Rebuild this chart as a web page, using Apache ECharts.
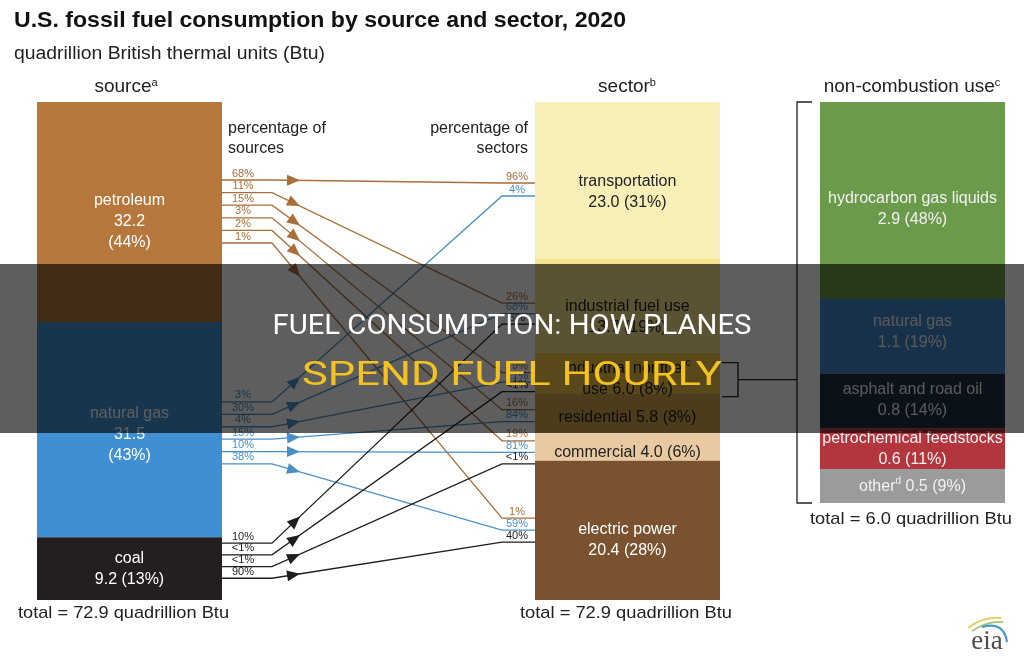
<!DOCTYPE html>
<html><head><meta charset="utf-8">
<script src="https://cdn.jsdelivr.net/npm/echarts@6/dist/echarts.min.js"></script>
<style>html,body{margin:0;padding:0;background:#fff}#c{width:1024px;height:657px}</style>
</head><body><div id="c"></div>
<script>
// ---------------- DATA ----------------
const sources = ['petroleum', 'natural gas', 'coal'];
const sourceValues = [32.2, 31.5, 9.2];
const sourcePct = ['44%', '43%', '13%'];
const sectors = ['transportation', 'industrial fuel use', 'industrial nonfuel use', 'residential', 'commercial', 'electric power'];
const sectorValues = [23.0, 13.7, 6.0, 5.8, 4.0, 20.4];
const sectorPct = ['31%', '19%', '8%', '8%', '6%', '28%'];
const nonCombustion = ['hydrocarbon gas liquids', 'natural gas', 'asphalt and road oil', 'petrochemical feedstocks', 'other'];
const nonCombValues = [2.9, 1.1, 0.8, 0.6, 0.5];
const nonCombPct = ['48%', '19%', '14%', '11%', '9%'];
const totalAll = 72.9;
const totalNonComb = 6.0;
// flows (source index -> sector index)
const flowSource = [0, 0, 0, 0, 0, 0, 1, 1, 1, 1, 1, 1, 2, 2, 2, 2];
const flowSector = [0, 1, 2, 3, 4, 5, 0, 1, 2, 3, 4, 5, 1, 2, 4, 5];
const flowPctOfSource = ['68%', '11%', '15%', '3%', '2%', '1%', '3%', '30%', '4%', '15%', '10%', '38%', '10%', '<1%', '<1%', '90%'];
const flowPctOfSector = ['96%', '26%', '79%', '16%', '19%', '1%', '4%', '68%', '21%', '84%', '81%', '59%', '6%', '<1%', '<1%', '40%'];

// ---------------- STYLE / LAYOUT ----------------
const FONT = '"Liberation Sans", Arial, sans-serif';
const sourceColors = ['#b5773b', '#3f8fd2', '#231f20'];
const flowColors = ['#a86f3a', '#4a90c8', '#1e1e1e'];
const sectorColors = ['#f8efb8', '#f5e28c', '#f0c348', '#cfa24c', '#e9c9a1', '#7b5230'];
const sectorText = ['#222', '#222', '#222', '#222', '#222', '#fff'];
const nonCombColors = ['#6b9a4a', '#3d86c6', '#1b2f46', '#b3363f', '#9b9b9b'];
const srcLabelDy = [10, 5, 1], secLabelDy = [12, 11, 6, 4, 6, 10], ncLabelDy = [9, -4, -1, 0, 1];
const srcLineOffset = [78, 80, 6], srcLineGap = [12.6, 12.4, 11.7];
const secLineOffset = [81, 44, 20, 16, 7.5, 57.5], secLineGap = [13, 10.5, 9.5, 12, 11.5, 12];
const X_SRC = 222, X_BEND_L = 272, X_BEND_R = 502, X_SEC = 535, X_ARROW = 300;

const sum = a => a.reduce((s, v) => s + v, 0);
const cum = a => a.map((v, i) => sum(a.slice(0, i)));

function labelFor(kind, name, v, p) {
  if (kind === 'src3') return name + '\n' + v.toFixed(1) + '\n(' + p + ')';
  if (kind === 'two') return name + '\n' + v.toFixed(1) + ' (' + p + ')';
  if (kind === 'one') return name + ' ' + v.toFixed(1) + ' (' + p + ')';
  if (kind === 'nonfuel') return 'industrial nonfuel{sup|c}\nuse ' + v.toFixed(1) + ' (' + p + ')';
  if (kind === 'other') return name + '{sup|d} ' + v.toFixed(1) + ' (' + p + ')';
  return name;
}
const srcKinds = ['src3', 'src3', 'two'];
const secKinds = ['two', 'two', 'nonfuel', 'one', 'one', 'two'];
const ncKinds = ['two', 'two', 'two', 'two', 'other'];

function bars(names, values, pcts, colors, textColors, kinds, dys, g) {
  return names.map((n, i) => ({
    type: 'bar', name: n, xAxisIndex: g, yAxisIndex: g, stack: 's' + g,
    barWidth: '100%', data: [values[i]], itemStyle: { color: colors[i] },
    label: {
      show: true, position: 'inside', offset: [0, dys[i]], fontFamily: FONT, fontSize: 16, lineHeight: 21,
      color: textColors[i], formatter: labelFor(kinds[i], n, values[i], pcts[i]),
      rich: { sup: { fontSize: 10, fontFamily: FONT, verticalAlign: 'top', color: textColors[i], lineHeight: 14 } }
    }
  }));
}

const chart = echarts.init(document.getElementById('c'));
chart.setOption({
  animation: false,
  backgroundColor: '#ffffff',
  grid: [
    { left: 37, top: 102, width: 185, height: 498 },
    { left: 535, top: 102, width: 185, height: 498 },
    { left: 820, top: 102, width: 185, height: 401 }
  ],
  xAxis: [0, 1, 2].map(i => ({ type: 'category', gridIndex: i, data: [''], show: false })),
  yAxis: [
    { type: 'value', gridIndex: 0, min: 0, max: sum(sourceValues), inverse: true, show: false },
    { type: 'value', gridIndex: 1, min: 0, max: sum(sectorValues), inverse: true, show: false },
    { type: 'value', gridIndex: 2, min: 0, max: sum(nonCombValues), inverse: true, show: false }
  ],
  series: [
    ...bars(sources, sourceValues, sourcePct, sourceColors, ['#fff', '#fff', '#fff'], srcKinds, srcLabelDy, 0),
    ...bars(sectors, sectorValues, sectorPct, sectorColors, sectorText, secKinds, secLabelDy, 1),
    ...bars(nonCombustion, nonCombValues, nonCombPct, nonCombColors, ['#f2f2f2', '#f2f2f2', '#f2f2f2', '#f2f2f2', '#f2f2f2'], ncKinds, ncLabelDy, 2)
  ]
});

// --------- flows & annotations (positions derived from axes) ---------
const ctx = document.createElement('canvas').getContext('2d');
function fit(text, font, width) { ctx.font = font; return width / ctx.measureText(text).width; }
function txt(text, x, y, size, opts) {
  opts = opts || {};
  const font = (opts.weight || 'normal') + ' ' + size + 'px ' + (opts.family || FONT);
  const el = {
    type: 'text', x: x, y: y, z: opts.z || 60,
    style: { text: text, font: font, fill: opts.fill || '#222', textAlign: opts.align || 'left', textVerticalAlign: 'middle' }
  };
  if (opts.width) el.scaleX = fit(text, font, opts.width);
  if (opts.rich) el.style.rich = opts.rich;
  return el;
}
const ySrc = v => chart.convertToPixel({ yAxisIndex: 0 }, v);
const ySec = v => chart.convertToPixel({ yAxisIndex: 1 }, v);
const yNc = v => chart.convertToPixel({ yAxisIndex: 2 }, v);
const srcTop = cum(sourceValues), secTop = cum(sectorValues);

const G = [];
flowSource.forEach((s, k) => {
  const t = flowSector[k];
  const rs = flowSource.slice(0, k).filter(x => x === s).length;
  const rt = flowSector.filter((x, m) => x === t && flowSource[m] < s).length;
  const y1 = ySrc(srcTop[s]) + srcLineOffset[s] + rs * srcLineGap[s];
  const y2 = ySec(secTop[t]) + secLineOffset[t] + rt * secLineGap[t];
  const col = flowColors[s];
  G.push({ type: 'polyline', z: 50, shape: { points: [[X_SRC, y1], [X_BEND_L, y1], [X_BEND_R, y2], [X_SEC, y2]] },
    style: { stroke: col, lineWidth: 1.3, fill: null } });
  const dx = X_BEND_R - X_BEND_L, dy = y2 - y1, L = Math.hypot(dx, dy);
  const ux = dx / L, uy = dy / L;
  const d = (X_ARROW - X_BEND_L) / ux;
  const tx = X_BEND_L + ux * d, ty = y1 + uy * d;
  const bx = tx - ux * 13, by = ty - uy * 13;
  G.push({ type: 'polygon', z: 51, shape: { points: [[tx, ty], [bx - uy * 5.5, by + ux * 5.5], [bx + uy * 5.5, by - ux * 5.5]] },
    style: { fill: col } });
  G.push(txt(flowPctOfSource[k], 243, y1 - 6.5, 11, { fill: col, align: 'center', z: 52 }));
  G.push(txt(flowPctOfSector[k], 517, y2 - 6.5, 11, { fill: col, align: 'center', z: 52 }));
});

// titles
G.push(txt('U.S. fossil fuel consumption by source and sector, 2020', 14, 21, 22, { weight: 'bold', fill: '#111', width: 612 }));
G.push(txt('quadrillion British thermal units (Btu)', 14, 54, 18, { fill: '#222', width: 311 }));
const supRich = { m: { fontSize: 19, fontFamily: FONT, fill: '#222' }, s: { fontSize: 11, fontFamily: FONT, fill: '#222', verticalAlign: 'top' } };
G.push(txt('{m|source}{s|a}', 126, 87, 19, { align: 'center', rich: supRich }));
G.push(txt('{m|sector}{s|b}', 627, 87, 19, { align: 'center', rich: supRich }));
G.push(txt('{m|non-combustion use}{s|c}', 912, 87, 19, { align: 'center', rich: supRich }));
G.push(txt('percentage of', 228, 129, 16));
G.push(txt('sources', 228, 149, 16));
G.push(txt('percentage of', 528, 129, 16, { align: 'right' }));
G.push(txt('sectors', 528, 149, 16, { align: 'right' }));
G.push(txt('total = ' + totalAll.toFixed(1) + ' quadrillion Btu', 18, 613, 17, { width: 211 }));
G.push(txt('total = ' + totalAll.toFixed(1) + ' quadrillion Btu', 520, 613, 17, { width: 212 }));
G.push(txt('total = ' + totalNonComb.toFixed(1) + ' quadrillion Btu', 810, 519, 17, { width: 202 }));

// brackets
const nfTop = ySec(secTop[2]) + 10, nfBot = ySec(secTop[2] + sectorValues[2]) + 3, nfMid = (nfTop + nfBot) / 2;
const ncTop = yNc(0), ncBot = yNc(sum(nonCombValues));
G.push({ type: 'polyline', z: 50, shape: { points: [[722, nfTop], [738, nfTop], [738, nfBot], [722, nfBot]] }, style: { stroke: '#222', lineWidth: 1.3, fill: null } });
G.push({ type: 'line', z: 50, shape: { x1: 738, y1: nfMid, x2: 797, y2: nfMid }, style: { stroke: '#222', lineWidth: 1.3 } });
G.push({ type: 'polyline', z: 50, shape: { points: [[812, ncTop], [797, ncTop], [797, ncBot], [812, ncBot]] }, style: { stroke: '#222', lineWidth: 1.3, fill: null } });

// eia logo
G.push({ type: 'bezierCurve', z: 50, shape: { x1: 968, y1: 628, x2: 1001, y2: 618, cpx1: 983, cpy1: 616 }, style: { stroke: '#e6cf6a', lineWidth: 2, fill: null } });
G.push({ type: 'bezierCurve', z: 50, shape: { x1: 972, y1: 631, x2: 1003, y2: 622, cpx1: 987, cpy1: 621 }, style: { stroke: '#9cc46a', lineWidth: 1.6, fill: null } });
G.push({ type: 'bezierCurve', z: 50, shape: { x1: 982, y1: 627, x2: 1007, y2: 642, cpx1: 1004, cpy1: 621 }, style: { stroke: '#4b97cf', lineWidth: 2.2, fill: null } });
G.push(txt('eia', 987, 642, 27, { family: '"Liberation Serif", "DejaVu Serif", serif', fill: '#4d4d4d', align: 'center' }));

// banner overlay
G.push({ type: 'rect', z: 100, shape: { x: 0, y: 264, width: 1024, height: 169 }, style: { fill: 'rgba(0,0,0,0.63)' } });
G.push(txt('FUEL CONSUMPTION: HOW PLANES', 512, 327, 28, { family: 'Roboto, sans-serif', fill: '#ffffff', align: 'center', width: 479, z: 101 }));
G.push(txt('SPEND FUEL HOURLY', 512, 376, 34, { family: 'Roboto, sans-serif', fill: '#f5c31f', align: 'center', width: 420, z: 101 }));

chart.setOption({ graphic: { elements: G } });
</script>
</body></html>
